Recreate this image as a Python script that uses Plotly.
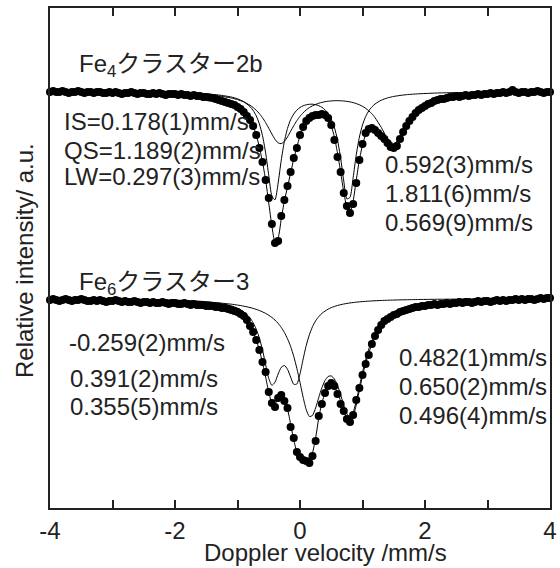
import plotly.graph_objects as go

# ---- data: velocity channels (mm/s) ----
VEL = [-4.00,-3.95,-3.90,-3.85,-3.80,-3.75,-3.70,-3.65,-3.60,-3.55,-3.50,-3.45,-3.40,-3.35,-3.30,-3.25,-3.20,-3.15,-3.10,-3.05,
       -3.00,-2.95,-2.90,-2.85,-2.80,-2.75,-2.70,-2.65,-2.60,-2.55,-2.50,-2.45,-2.40,-2.35,-2.30,-2.25,-2.20,-2.15,-2.10,-2.05,
       -2.00,-1.95,-1.90,-1.85,-1.80,-1.75,-1.70,-1.65,-1.60,-1.55,-1.50,-1.45,-1.40,-1.35,-1.30,-1.25,-1.20,-1.15,-1.10,-1.05,
       -1.00,-0.95,-0.90,-0.85,-0.80,-0.75,-0.70,-0.65,-0.60,-0.55,-0.50,-0.45,-0.40,-0.35,-0.30,-0.25,-0.20,-0.15,-0.10,-0.05,
       0.00,0.05,0.10,0.15,0.20,0.25,0.30,0.35,0.40,0.45,0.50,0.55,0.60,0.65,0.70,0.75,0.80,0.85,0.90,0.95,
       1.00,1.05,1.10,1.15,1.20,1.25,1.30,1.35,1.40,1.45,1.50,1.55,1.60,1.65,1.70,1.75,1.80,1.85,1.90,1.95,
       2.00,2.05,2.10,2.15,2.20,2.25,2.30,2.35,2.40,2.45,2.50,2.55,2.60,2.65,2.70,2.75,2.80,2.85,2.90,2.95,
       3.00,3.05,3.10,3.15,3.20,3.25,3.30,3.35,3.40,3.45,3.50,3.55,3.60,3.65,3.70,3.75,3.80,3.85,3.90,3.95,
       4.00]

# Fe4 cluster 2b: measured relative intensity (a.u.)
FE4_DATA = [416,417,416,416,417,416,415,416,416,417,416,415,416,416,415,416,416,415,415,416,
            415,416,415,414,415,415,416,415,414,415,415,414,414,415,414,415,414,413,414,414,
            414,413,414,413,413,412,413,412,412,411,411,
            410.5,410,409,408,407,406,405,404,403,401,
            399,396,392,388,382,373,360,346,328,310,
            284,265,267,292,308,322,336,350,360,373,
            381,387,390,392,393,393,394,393,390,383,
            368,351,336,315,302,295,304,325,348,364,
            375,379,380,378,375,372,369,365,361,360,
            362,369,376,382,387,391,395,398,400,402,
            404,405,407,408,409,409,410,411,411,412,
            411,412,413,412,413,413,414,413,414,414,
            415,414,415,415,416,415,416,418,416,415,
            416,416,415,416,416,417,416,415,416,416]

# Fe6 cluster 3: measured relative intensity (a.u.)
FE6_DATA = [208,209,208,207,208,209,208,207,208,208,209,208,207,207,208,207,208,207,206,207,
            207,208,207,206,207,206,206,207,206,205,206,206,205,206,205,205,206,205,204,205,
            205,204,204,205,204,203,204,203,203,203,202,
            202,202,201,201,200,200,199,198,197,196,
            194,192,188,182,176,168,158,146,136,116,
            105,101,110,113,107,100,81,70,56,51,
            48,47,45,52,67,92,104,115,122,125,
            122,114,104,97,89,86,93,108,120,133,
            144,153,164,172,178,183,187,189,191,193,
            194,196,197,198,199,200,201,201,202,202,
            203,203,204,203,204,204,205,204,205,205,
            206,205,206,206,205,206,207,206,207,207,
            206,207,208,207,208,207,208,208,209,208,
            209,208,209,209,208,209,210,209,210,210]

# ---- fitted curves ----
FIT_VEL = [-4.0,-3.5,-3.0,-2.5,-2.0,-1.75,-1.5,-1.3,-1.1,-1.0,-0.9,-0.8,
           -0.75,-0.7,-0.65,-0.6,-0.55,-0.5,-0.45,-0.4,-0.35,-0.3,-0.25,-0.2,-0.15,-0.1,-0.05,
           0.0,0.05,0.1,0.15,0.2,0.25,0.3,0.35,0.4,0.45,0.5,0.55,0.6,0.65,0.7,0.75,0.8,0.85,0.9,0.95,
           1.0,1.05,1.1,1.15,1.2,1.3,1.4,1.5,1.6,1.7,1.8,1.9,2.0,2.2,2.5,3.0,3.5,4.0]

FE4_FIT = [415.8,415.6,415.2,414.6,413.5,412.5,410.8,408.5,404.5,401.5,396.5,388.5,
           382,373,361,346,328,305,282,266,270,289,307,321,335,349,361,
           372,380,385.5,389,391,392,392.5,392.5,391,388,382,371,355,336,316,301,296,307,328,348,
           363,373,377.5,379,378,372,363.5,359.5,366.5,378.5,389,396.5,401.5,407.2,411.1,413.7,414.7,415.3]

FE4_SITE1 = [416.2,416.1,416.0,415.7,415.3,414.8,414.1,413.0,411.0,409.2,406.3,401.4,
             397.6,392.1,384.1,372.4,355.2,332.7,312.0,308.2,324.9,347.8,366.6,379.6,388.3,394.0,397.9,
             400.5,402.2,403.2,403.75,403.8,403.3,402.3,400.65,398.2,394.5,388.9,380.6,368.1,350.0,327.1,309.1,310.6,330.4,353.2,370.9,
             383.1,391.4,397.1,401.1,404.0,407.8,410.1,411.55,412.55,413.3,413.8,414.2,414.5,415.0,415.4,415.8,416.0,416.15]

FE4_SITE2 = [416.06,415.93,415.73,415.39,414.75,414.19,413.27,412.06,410.0,408.37,406.08,402.73,
             400.5,397.74,394.4,390.3,385.4,379.8,374.0,368.7,365.1,364.4,366.6,371.1,376.7,382.3,387.4,
             391.7,395.2,398.1,400.4,402.2,403.6,404.75,405.6,406.3,406.76,407.09,407.29,407.33,407.23,406.99,406.63,406.09,405.38,404.42,403.21,
             401.65,399.71,397.23,394.2,390.4,380.6,369.5,364.3,370.3,381.65,391.7,398.7,403.3,408.71,412.18,414.36,415.21,415.63]

FE6_FIT = [208.2,208.2,207.8,207.1,205.7,204.6,202.8,200.5,196.5,194,190.5,181.5,
           175.5,168,158,145.5,131,116,105,104,110,112,108,99,84,68,56,
           50,47.5,46,47,55,70,90,105,115,121,123,121,115.5,107,97.5,89.5,86.5,91.5,103,117.5,
           132,144.5,155,163.5,170.5,181,187.5,192.5,195.7,198,199.8,201.2,202.4,204,205.5,207,207.7,208.2]

FE6_SITE1 = [209.16,209.05,208.87,208.56,207.92,207.33,206.31,204.88,202.19,199.85,196.18,189.99,
             185.24,178.76,169.9,158.0,143.4,129.6,122.66,125.8,134.0,140.7,142.53,138.8,130.9,123.7,124.0,
             134.1,148.85,162.6,173.3,181.33,187.13,191.42,194.57,196.95,198.86,200.35,201.55,202.53,203.32,204.0,204.57,205.05,205.46,205.82,206.14,
             206.42,206.66,206.87,207.06,207.23,207.52,207.76,207.96,208.12,208.26,208.37,208.48,208.58,208.72,208.88,209.06,209.17,209.24]

FE6_SITE2 = [208.85,208.67,208.41,208.01,207.32,206.77,206.0,205.11,203.82,202.95,201.85,200.45,
             199.59,198.62,197.48,196.14,194.61,192.75,190.55,187.89,184.65,180.59,175.58,169.3,161.5,151.6,139.5,
             125.5,110.8,98.3,91.5,92.6,100.1,110.5,120.2,127.5,131.5,132.1,129.0,122.6,113.3,102.9,94.2,91.05,95.7,106.9,121.35,
             135.7,148.4,158.9,167.35,174.0,183.6,189.9,194.1,197.1,199.4,201.0,202.3,203.3,204.76,206.13,207.38,208.05,208.43]

X_TICKS = [-4, -2, 0, 2, 4]
X_TICK_TEXT = ["-4", "-2", "0", "2", "4"]

FONT = "Arial, Liberation Sans, Noto Sans CJK JP, sans-serif"
INK = "#222222"

fig = go.Figure()
for ydata in (FE4_DATA, FE6_DATA):
    fig.add_trace(go.Scatter(x=VEL, y=ydata, mode="markers",
                             marker=dict(color="black", size=8, line=dict(width=0)),
                             hoverinfo="skip", cliponaxis=False))
for yfit in (FE4_FIT, FE4_SITE1, FE4_SITE2, FE6_FIT, FE6_SITE1, FE6_SITE2):
    fig.add_trace(go.Scatter(x=FIT_VEL, y=yfit, mode="lines",
                             line=dict(color="black", width=1, shape="spline", smoothing=0.6),
                             hoverinfo="skip"))

def px(xpix):
    return (xpix - 50) / 500.0

def py(ypix):
    return (508 - ypix) / 500.0

texts = [
    ("Fe<sub>4</sub>クラスター2b", 77, 65),
    ("IS=0.178(1)mm/s", 62, 122),
    ("QS=1.189(2)mm/s", 62, 150),
    ("LW=0.297(3)mm/s", 62, 177),
    ("0.592(3)mm/s", 383, 165),
    ("1.811(6)mm/s", 383, 193),
    ("0.569(9)mm/s", 383, 222),
    ("Fe<sub>6</sub>クラスター3", 77, 283),
    ("-0.259(2)mm/s", 67, 343),
    ("0.391(2)mm/s", 68, 378),
    ("0.355(5)mm/s", 68, 406),
    ("0.482(1)mm/s", 397, 357),
    ("0.650(2)mm/s", 397, 386),
    ("0.496(4)mm/s", 397, 415),
]
annotations = []
for t, xx, yy in texts:
    annotations.append(dict(text=t, x=px(xx), y=py(yy), xref="paper", yref="paper",
                            xanchor="left", yanchor="middle", showarrow=False,
                            font=dict(family=FONT, size=24, color=INK)))
annotations.append(dict(text="Doppler velocity /mm/s", x=px(325), y=py(552), xref="paper", yref="paper",
                        xanchor="center", yanchor="middle", showarrow=False,
                        font=dict(family=FONT, size=24, color=INK)))
annotations.append(dict(text="Relative intensity/ a.u.", x=px(24), y=py(261), xref="paper", yref="paper",
                        xanchor="center", yanchor="middle", showarrow=False, textangle=-90,
                        font=dict(family=FONT, size=24, color=INK)))

fig.update_layout(
    width=560, height=568,
    margin=dict(l=50, r=10, t=8, b=60, autoexpand=False),
    paper_bgcolor="white", plot_bgcolor="white",
    showlegend=False,
    annotations=annotations,
    xaxis=dict(range=[-4, 4], tickvals=X_TICKS, ticktext=X_TICK_TEXT,
               ticks="inside", ticklen=8, tickwidth=1.5, tickcolor=INK,
               minor=dict(ticks="inside", dtick=1, ticklen=8, tickwidth=1.5, tickcolor=INK, showgrid=False),
               showline=True, linecolor=INK, linewidth=1.5, mirror="ticks",
               showgrid=False, zeroline=False, automargin=False,
               tickfont=dict(family=FONT, size=24, color=INK)),
    yaxis=dict(range=[0, 500], showticklabels=False, ticks="",
               showline=True, linecolor=INK, linewidth=1.5, mirror=True,
               showgrid=False, zeroline=False, automargin=False),
)

fig.write_html("out.html", config={"displayModeBar": False},
               post_script="document.body.style.margin='0px';document.body.style.overflow='hidden';")
